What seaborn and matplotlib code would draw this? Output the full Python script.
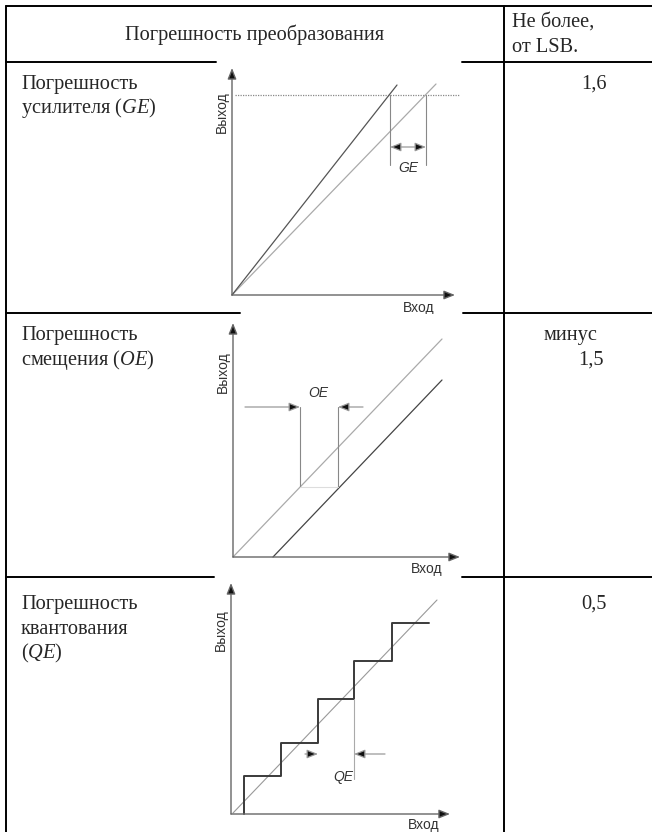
import matplotlib.pyplot as plt
import seaborn as sns

sns.set_style('white')
plt.rcParams['font.family'] = ['Liberation Serif', 'DejaVu Serif']
plt.rcParams['mathtext.fontset'] = 'custom'
plt.rcParams['mathtext.rm'] = 'Liberation Serif'
plt.rcParams['mathtext.it'] = 'Liberation Serif:italic'

# table texts
header_left = 'Погрешность преобразования'
header_right = ['Не более,', 'от LSB.']
row_names = [['Погрешность', 'усилителя ($GE$)'],
             ['Погрешность', 'смещения ($OE$)'],
             ['Погрешность', 'квантования', '($QE$)']]
row_values = [['1,6'], ['минус', '1,5'], ['0,5']]
x_label = 'Вход'
y_label = 'Выход'
mark_labels = ['GE', 'OE', 'QE']

# gain error diagram (units: px from origin)
ge_steep_x = [0, 165]
ge_steep_y = [0, 210]
ge_ideal_x = [0, 204]
ge_ideal_y = [0, 211]
ge_full_scale_x = [3, 228]
ge_full_scale_y = [200, 200]
ge_marks_x = [158, 194]
ge_marks_y = [130, 200]
ge_arrow_y = 148

# offset error diagram
oe_ideal_x = [0, 209]
oe_ideal_y = [0, 218]
oe_shift_x = [40, 209]
oe_shift_y = [0, 177]
oe_marks_x = [67, 105]
oe_marks_y = [70, 150]
oe_tails_x = [12, 130]

# quantization error diagram
qe_diag_x = [2, 206]
qe_diag_y = [1, 214]
qe_steps_x = [13, 13, 50, 50, 87, 87, 123, 123, 161, 161, 198]
qe_steps_y = [0, 38, 38, 71, 71, 115, 115, 153, 153, 191, 191]
qe_mark_x = 123
qe_mark_y = [35, 115]
qe_arrow_y = 60
qe_tails_x = [74, 154]

W, H = 652, 832
fig = plt.figure(figsize=(W / 100, H / 100), dpi=100)
bg = fig.add_axes([0, 0, 1, 1])
bg.set_xlim(0, W)
bg.set_ylim(H, 0)
bg.axis('off')

lw_tab = 1.4
bg.plot([6, 6], [6, H], color='black', lw=lw_tab)
bg.plot([504, 504], [6, H], color='black', lw=lw_tab)
bg.plot([6, W], [6, 6], color='black', lw=lw_tab)
for y, gap in [(62, (216, 462)), (313, (240, 463)), (577, (214, 462))]:
    bg.plot([6, gap[0]], [y, y], color='black', lw=lw_tab)
    bg.plot([gap[1], W], [y, y], color='black', lw=lw_tab)

fs = 14.7
bg.text(255, 40, header_left, ha='center', va='baseline', fontsize=fs)
for i, t in enumerate(header_right):
    bg.text(512, 27 + 25 * i, t, ha='left', va='baseline', fontsize=fs)

row_base = [89, 340, 609]
for base, names in zip(row_base, row_names):
    for i, t in enumerate(names):
        bg.text(21, base + 24.5 * i, t, ha='left', va='baseline', fontsize=fs)

bg.text(607, row_base[0], row_values[0][0], ha='right', va='baseline', fontsize=fs)
bg.text(570, row_base[1], row_values[1][0], ha='center', va='baseline', fontsize=fs)
bg.text(604, row_base[1] + 24.5, row_values[1][1], ha='right', va='baseline', fontsize=fs)
bg.text(607, row_base[2], row_values[2][0], ha='right', va='baseline', fontsize=fs)

sans = 'Liberation Sans'
head = '-|>,head_length=0.55,head_width=0.22'


def diagram(box, origin, x_len, y_len, lab_pos):
    x0, y0, x1, y1 = box
    ox, oy = origin
    ax = fig.add_axes([x0 / W, 1 - y1 / H, (x1 - x0) / W, (y1 - y0) / H])
    ax.set_facecolor('white')
    for s in ax.spines.values():
        s.set_visible(False)
    ax.set_xticks([])
    ax.set_yticks([])
    ap = dict(arrowstyle=head, ec='#666666', fc='#111111', lw=1.0,
              mutation_scale=12, shrinkA=0, shrinkB=0)
    ax.annotate('', xy=(x_len, 0), xytext=(0, 0), arrowprops=ap)
    ax.annotate('', xy=(0, y_len), xytext=(0, 0), arrowprops=ap)
    ax.text(-10, lab_pos[0], y_label, rotation=90, ha='center', va='center',
            family=sans, fontsize=10, color='#333333')
    ax.text(lab_pos[1], lab_pos[2], x_label, ha='center', va='center',
            family=sans, fontsize=10, color='#333333')
    return ax


def dim_arrow(ax, tip, tail, y, style=head):
    ax.annotate('', xy=(tip, y), xytext=(tail, y),
                arrowprops=dict(arrowstyle=style, ec='#999999', fc='#111111',
                                lw=0.9, mutation_scale=12, shrinkA=0, shrinkB=0))


def mark_text(ax, x, y, t):
    ax.text(x, y, t, ha='center', va='center', family=sans,
            style='italic', fontsize=10, color='#333333')


# row 1
ax = diagram((216, 63, 462, 312), (232, 295), 223, 227, (183, 187, -13))
sns.lineplot(x=ge_full_scale_x, y=ge_full_scale_y, ax=ax, color='#888888',
             lw=0.9, linestyle=(0, (1, 1)), sort=False, estimator=None)
sns.lineplot(x=ge_ideal_x, y=ge_ideal_y, ax=ax, color='#aaaaaa', lw=0.9,
             sort=False, estimator=None)
sns.lineplot(x=ge_steep_x, y=ge_steep_y, ax=ax, color='#555555', lw=0.9,
             sort=False, estimator=None)
for mx in ge_marks_x:
    sns.lineplot(x=[mx, mx], y=ge_marks_y, ax=ax, color='#888888', lw=0.8,
                 sort=False, estimator=None)
dim_arrow(ax, ge_marks_x[1], ge_marks_x[0], ge_arrow_y,
          '<|-|>,head_length=0.55,head_width=0.22')
mark_text(ax, 176, 127, mark_labels[0])
ax.set_xlim(216 - 232, 462 - 232)
ax.set_ylim(295 - 312, 295 - 63)

# row 2
ax = diagram((216, 314, 463, 576), (233, 557), 227, 234, (185, 194, -12))
sns.lineplot(x=oe_ideal_x, y=oe_ideal_y, ax=ax, color='#aaaaaa', lw=0.9,
             sort=False, estimator=None)
sns.lineplot(x=oe_shift_x, y=oe_shift_y, ax=ax, color='#444444', lw=0.9,
             sort=False, estimator=None)
for mx in oe_marks_x:
    sns.lineplot(x=[mx, mx], y=oe_marks_y, ax=ax, color='#888888', lw=0.8,
                 sort=False, estimator=None)
sns.lineplot(x=oe_marks_x, y=[oe_marks_y[0]] * 2, ax=ax, color='#dddddd',
             lw=0.8, sort=False, estimator=None)
dim_arrow(ax, oe_marks_x[0], oe_tails_x[0], oe_marks_y[1])
dim_arrow(ax, oe_marks_x[1], oe_tails_x[1], oe_marks_y[1])
mark_text(ax, 85, 164, mark_labels[1])
ax.set_xlim(216 - 233, 463 - 233)
ax.set_ylim(557 - 576, 557 - 314)

# row 3
ax = diagram((214, 578, 462, 832), (231, 814), 219, 231, (184, 193, -11))
sns.lineplot(x=qe_diag_x, y=qe_diag_y, ax=ax, color='#999999', lw=0.8,
             sort=False, estimator=None)
sns.lineplot(x=qe_steps_x, y=qe_steps_y, ax=ax, color='#3a3a3a', lw=1.4,
             sort=False, estimator=None)
sns.lineplot(x=[qe_mark_x, qe_mark_x], y=qe_mark_y, ax=ax, color='#aaaaaa',
             lw=0.8, sort=False, estimator=None)
dim_arrow(ax, qe_steps_x[4], qe_tails_x[0], qe_arrow_y)
dim_arrow(ax, qe_mark_x, qe_tails_x[1], qe_arrow_y)
mark_text(ax, 112, 37, mark_labels[2])
ax.set_xlim(214 - 231, 462 - 231)
ax.set_ylim(814 - 832, 814 - 578)

fig.savefig('out.png', dpi=100)
